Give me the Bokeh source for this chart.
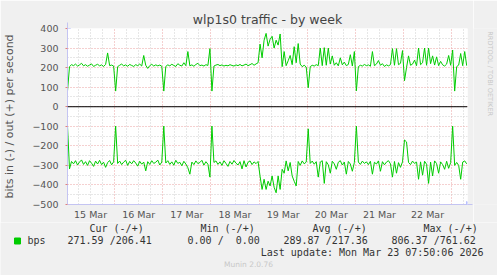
import math
from bokeh.plotting import figure
from bokeh.layouts import column, row
from bokeh.models import Range1d, FixedTicker, Span, Arrow, NormalHead
from bokeh.core.properties import value
from bokeh.embed import file_html
from bokeh.resources import INLINE

# ---------------- data (bits per second, one sample per hour from Mar 15 00:30) -------------
out_bps = [
    80, 205, 215, 210, 218, 208, 214, 222, 209, 215, 207, 213, 219, 206, 212, 217, 209, 214, 206, 216, 275, 210, 213, 208,
    80, 205, 212, 218, 209, 214, 207, 216, 211, 206, 215, 210, 218, 208, 262, 212, 196, 210, 217, 208, 214, 209, 213, 207,
    80, 206, 214, 209, 217, 211, 206, 220, 212, 208, 225, 210, 282, 209, 214, 207, 216, 222, 210, 213, 208, 215, 211, 297,
    80, 208, 213, 216, 210, 214, 208, 212, 209, 215, 211, 208, 214, 210, 216, 209, 213, 218, 210, 215, 221, 212, 219, 225,
    320, 250, 340, 375, 310, 345, 360, 300, 340, 315, 372, 205, 282, 210, 235, 262, 215, 307, 225, 323, 218, 205, 212, 203,
    97, 205, 212, 208, 215, 210, 300, 210, 302, 212, 300, 218, 260, 212, 225, 209, 250, 214, 228, 210, 216, 266, 208, 282,
    81, 205, 212, 208, 216, 210, 214, 207, 282, 210, 218, 236, 212, 220, 206, 214, 209, 215, 297, 212, 297, 215, 222, 287,
    133, 200, 260, 212, 218, 238, 210, 300, 215, 225, 300, 212, 300, 220, 260, 213, 255, 210, 232, 214, 208, 218, 262, 212,
    290, 80, 205, 213, 272, 210, 282, 210,
]
in_bps = [
    99, 318, 280, 292, 276, 298, 283, 272, 295, 281, 300, 276, 289, 305, 278, 293, 274, 296, 284, 310, 286, 275, 297, 282,
    99, 290, 278, 296, 283, 274, 300, 280, 292, 276, 288, 304, 279, 294, 283, 328, 281, 295, 276, 290, 284, 273, 298, 283,
    99, 288, 276, 295, 282, 299, 274, 290, 284, 302, 279, 293, 312, 345, 283, 296, 277, 291, 285, 274, 299, 281, 294, 360,
    99, 285, 277, 295, 282, 300, 276, 290, 305, 280, 294, 275, 289, 298, 281, 318, 276, 308, 284, 277, 296, 282, 291, 280,
    355, 423, 371, 423, 381, 405, 354, 412, 440, 354, 423, 320, 340, 277, 328, 285, 354, 381, 405, 280, 300, 277, 292, 283,
    113, 290, 278, 294, 281, 360, 283, 276, 392, 281, 297, 340, 279, 292, 320, 284, 276, 298, 283, 345, 280, 293, 330, 285,
    99, 283, 295, 278, 290, 282, 296, 279, 345, 284, 293, 277, 330, 281, 297, 283, 276, 292, 360, 280, 340, 286, 310, 282,
    170, 180, 285, 296, 278, 290, 283, 371, 282, 350, 279, 294, 392, 283, 354, 277, 291, 340, 282, 296, 320, 279, 315, 286,
    99, 300, 285, 300, 371, 283, 277, 292,
]
day_labels = ["15 Mar", "16 Mar", "17 Mar", "18 Mar", "19 Mar", "20 Mar", "21 Mar", "22 Mar"]
y_ticks = [-500, -400, -300, -200, -100, 0, 100, 200, 300, 400]
legend_headers = ["Cur (-/+)", "Min (-/+)", "Avg (-/+)", "Max (-/+)"]
stat_in = [271.59, 0.00, 289.87, 806.37]
stat_out = [206.41, 0.00, 217.36, 761.62]
series_name = "bps"
title_text = "wlp1s0 traffic - by week"
y_label = "bits in (-) / out (+) per second"
last_update = "Last update: Mon Mar 23 07:50:06 2026"
version_text = "Munin 2.0.76"
side_text = "RRDTOOL / TOBI OETIKER"

# ---------------- derived ----------------
hours = [0.5 + i for i in range(len(out_bps))]
neg_in = [-v for v in in_bps]
noons = [12 + 24 * k for k in range(len(day_labels))]
midnights = [24 * k for k in range(1, len(day_labels) + 1)]
six_hours = [6 * k for k in range(1, 34) if k % 4 != 0]
y_minor = [t + 50 for t in y_ticks[:-1]]

W, H = 497, 275
MAIN_W, MAIN_H = 473, 222
SIDE_W = W - MAIN_W
LEG_H = H - MAIN_H
LEFT, RIGHT, TOP, BOTTOM = 67, 6, 28, 18
FRAME_H = MAIN_H - TOP - BOTTOM

GREEN = "#00cc00"
RED_GRID = "#eaa0a0"
GREY_GRID = "#cfcfcf"
AXIS_COL = "#c4c4f2"
BG = "#f0f0f0"
TXT = "#333333"

p = figure(width=MAIN_W, height=MAIN_H, x_range=Range1d(0.5, 199.9), y_range=Range1d(-500, 400),
           output_backend="svg", toolbar_location=None,
           min_border_left=LEFT, min_border_right=RIGHT, min_border_top=TOP, min_border_bottom=BOTTOM,
           background_fill_color="white", border_fill_color=BG, outline_line_color=None,
           title=title_text)

p.title.text_font = "DejaVu Sans"
p.title.text_font_size = "12.5px"
p.title.text_font_style = "normal"
p.title.text_color = "#444444"
p.title.align = "center"
p.title.standoff = 3

# x axis
p.xaxis.ticker = FixedTicker(ticks=noons, minor_ticks=[])
p.xaxis.major_label_overrides = {n: lab for n, lab in zip(noons, day_labels)}
p.xaxis.major_tick_line_color = None
p.xaxis.minor_tick_line_color = None
p.xaxis.major_tick_out = 0
p.xaxis.major_tick_in = 0
p.xaxis.minor_tick_out = 0
p.xaxis.minor_tick_in = 0
p.xaxis.axis_line_color = AXIS_COL
p.xaxis.major_label_text_font = "DejaVu Sans"
p.xaxis.major_label_text_font_size = "9.5px"
p.xaxis.major_label_text_color = "#555555"
p.xaxis.major_label_standoff = 4

# y axis
p.yaxis.ticker = FixedTicker(ticks=y_ticks, minor_ticks=y_minor)
p.yaxis.major_tick_in = 0
p.yaxis.major_tick_out = 2
p.yaxis.major_tick_line_color = "#e08080"
p.yaxis.minor_tick_line_color = None
p.yaxis.axis_line_color = AXIS_COL
p.yaxis.major_label_text_font = "DejaVu Sans"
p.yaxis.major_label_text_font_size = "9.5px"
p.yaxis.major_label_text_color = "#555555"
p.yaxis.major_label_standoff = 5
p.yaxis.axis_label = y_label
p.yaxis.axis_label_text_font = "DejaVu Sans"
p.yaxis.axis_label_text_font_size = "11px"
p.yaxis.axis_label_text_font_style = "normal"
p.yaxis.axis_label_text_color = "#555555"
p.yaxis.axis_label_standoff = 13

# grids
p.xgrid.ticker = FixedTicker(ticks=midnights, minor_ticks=six_hours)
p.xgrid.grid_line_color = RED_GRID
p.xgrid.grid_line_dash = "1 2"
p.xgrid.minor_grid_line_color = GREY_GRID
p.xgrid.minor_grid_line_dash = "1 2"
p.ygrid.ticker = FixedTicker(ticks=y_ticks, minor_ticks=y_minor)
p.ygrid.grid_line_color = RED_GRID
p.ygrid.grid_line_dash = "1 2"
p.ygrid.minor_grid_line_color = GREY_GRID
p.ygrid.minor_grid_line_dash = "1 2"

# data
p.line(hours, out_bps, line_color=GREEN, line_width=1)
p.line(hours, neg_in, line_color=GREEN, line_width=1)
p.add_layout(Span(location=0, dimension="width", line_color="black", line_width=1))

# axis arrows
p.add_layout(Arrow(x_start=MAIN_W - LEFT - RIGHT, y_start=0, x_end=MAIN_W - LEFT - RIGHT + 5, y_end=0,
                   start_units="screen", end_units="screen", line_color=AXIS_COL,
                   end=NormalHead(size=6, fill_color="#b8c0ff", line_color="#b8c0ff")))
p.add_layout(Arrow(x_start=0, y_start=FRAME_H, x_end=0, y_end=FRAME_H + 6,
                   start_units="screen", end_units="screen", line_color=AXIS_COL,
                   end=NormalHead(size=6, fill_color="#b8c0ff", line_color="#b8c0ff")))


def blank_fig(w, h):
    f = figure(width=w, height=h, x_range=Range1d(0, w), y_range=Range1d(h, 0),
               output_backend="svg", toolbar_location=None, x_axis_type=None, y_axis_type=None,
               min_border=0, background_fill_color=BG, border_fill_color=BG, outline_line_color=None)
    f.xgrid.visible = False
    f.ygrid.visible = False
    return f


# side credit text
side = blank_fig(SIDE_W, MAIN_H)
side.text(x=[489 - MAIN_W], y=[57], text=[side_text], angle=-math.pi / 2,
          text_font=value("DejaVu Sans"), text_font_size=value("6.6px"), text_color="#c8c8c8",
          text_align="center", text_baseline="middle")

# legend / footer (positions given in page pixels, shifted into this strip)
leg = blank_fig(W, LEG_H)
NB = "\u00a0"
header_x = [89, 200, 312, 423]
value_x = [67, 175, 283, 391]
row1, row2, row3, row4 = (v - MAIN_H for v in (227.5, 240, 252, 264))
leg.text(x=header_x, y=[row1] * len(header_x), text=legend_headers,
         text_font=value("DejaVu Sans Mono"), text_font_size=value("10px"), text_color=TXT,
         text_align="left", text_baseline="middle")
leg.scatter(x=[17], y=[row2 + 0.5], marker="square", size=6, fill_color=GREEN, line_color=GREEN)
leg.text(x=[27], y=[row2], text=[series_name],
         text_font=value("DejaVu Sans Mono"), text_font_size=value("10px"), text_color=TXT,
         text_align="left", text_baseline="middle")
value_texts = [f"{vi:6.2f} /{vo:6.2f}".replace(" ", NB) for vi, vo in zip(stat_in, stat_out)]
leg.text(x=value_x, y=[row2] * len(value_x), text=value_texts,
         text_font=value("DejaVu Sans Mono"), text_font_size=value("10px"), text_color=TXT,
         text_align="left", text_baseline="middle")
leg.text(x=[483], y=[row3], text=[last_update],
         text_font=value("DejaVu Sans Mono"), text_font_size=value("10px"), text_color=TXT,
         text_align="right", text_baseline="middle")
leg.text(x=[248], y=[row4], text=[version_text],
         text_font=value("DejaVu Sans"), text_font_size=value("7.5px"), text_color="#c8c8c8",
         text_align="center", text_baseline="middle")

layout = column(row(p, side, spacing=0), leg, spacing=0)
open("out.html", "w").write(file_html(layout, INLINE))
